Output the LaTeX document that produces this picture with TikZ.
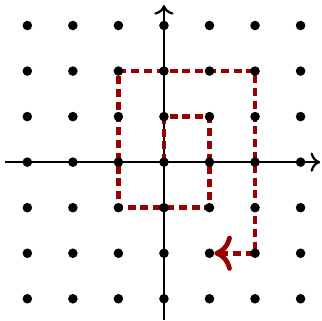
\documentclass[tikz,border=0pt]{standalone}
\usepackage{xcolor}
\usepackage{tikz}
\usetikzlibrary{arrows.meta}
\definecolor{spiralred}{RGB}{153,0,0}
\tikzset{
  dot/.style    = {circle, fill=black, inner sep=0pt, minimum size=0.21cm},
  axis/.style   = {line width=1.4pt, -{To[length=6pt, width=12pt]}},
  spiral/.style = {line width=3pt, color=spiralred, dash pattern=on 5pt off 3pt,
                   -{To[length=11pt, width=22pt]}},
}

\begin{document}
\begin{tikzpicture}
    \useasboundingbox (-3.6,-3.47) rectangle (3.47,3.56);

    %% axes
    \coordinate (xl) at (-3.49,0);
    \coordinate (xr) at (3.43,0);
    \coordinate (yb) at (0,-3.47);
    \coordinate (yt) at (0,3.45);
    \draw[axis] (xl) -- (xr);
    \draw[axis] (yb) -- (yt);

    %% spiral through the lattice
    \draw[spiral, shorten >=3pt] (0,0) -- (0,1) -- (1,1) -- (1,-1) -- (-1,-1)
        -- (-1,2) -- (2,2) -- (2,-2) -- (1,-2);

    %% lattice points
    \foreach \x in {-3,...,3}
      \foreach \y in {-3,...,3}
        \node[dot] (d\x_\y) at (\x,\y) {};

  \end{tikzpicture}
\end{document}
